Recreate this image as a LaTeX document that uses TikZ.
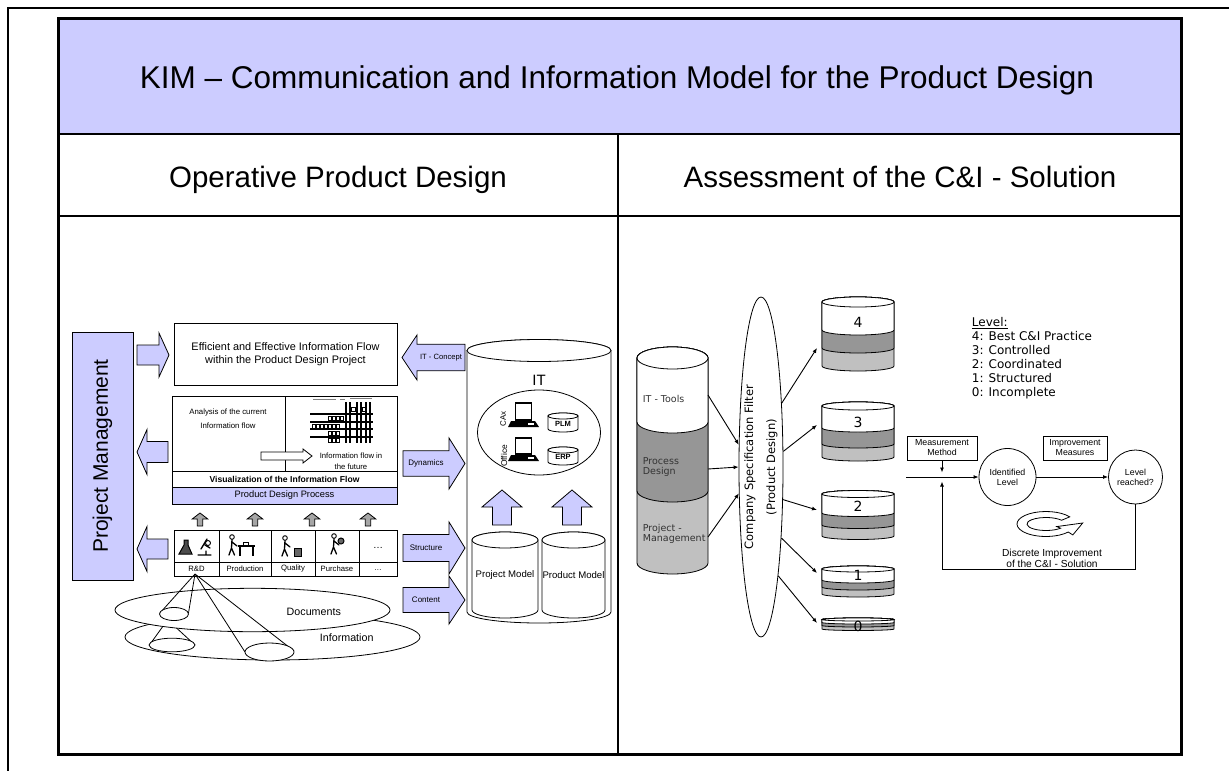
\documentclass[tikz,border=0pt]{standalone}
\usepackage{fontspec}
\setmainfont{Liberation Sans}
\newfontfamily\verd{DejaVu Sans}
\usetikzlibrary{arrows.meta,shapes.geometric,calc}
\definecolor{lav}{HTML}{CCCCFF}
\definecolor{dg}{HTML}{969696}
\definecolor{lg}{HTML}{C0C0C0}
\definecolor{ga}{HTML}{A6A6A6}
\newcommand{\fz}[2]{\fontsize{#1}{#2}\selectfont}
% horizontal block arrow: name, tail x, tip x, y, shaft half, head half, head length, fill, label
\newcommand{\harr}[9]{%
 \pgfmathsetmacro{\hb}{#3-sign(#3-#2)*#7}%
 \draw[blk,fill=#8] ({#2},{#4-#5}) -- (\hb,{#4-#5}) -- (\hb,{#4-#6}) -- ({#3},{#4}) -- (\hb,{#4+#6}) -- (\hb,{#4+#5}) -- ({#2},{#4+#5}) -- cycle;
 \node[lbl] (#1) at ({(#2+\hb)/2},{#4}) {#9};}
% vertical block arrow: name, x, tail y, tip y, shaft half, head half, head length, fill
\newcommand{\varr}[8]{%
 \pgfmathsetmacro{\vb}{#4-sign(#4-#3)*#7}%
 \draw[blk,fill=#8] ({#2-#5},{#3}) -- ({#2-#5},\vb) -- ({#2-#6},\vb) -- ({#2},{#4}) -- ({#2+#6},\vb) -- ({#2+#5},\vb) -- ({#2+#5},{#3}) -- cycle;
 \coordinate (#1) at ({#2},{(#3+\vb)/2});}
% cylinder body: x1 x2 ytop ybot ry fill
\newcommand{\cylb}[6]{%
 \pgfmathsetmacro{\crx}{(#2-#1)/2}%
 \draw[lw,fill=#6] ({#1},{#3}) -- ({#1},{#4}) arc[start angle=180,end angle=360,x radius=\crx pt,y radius=#5pt] -- ({#2},{#3}) arc[start angle=0,end angle=180,x radius=\crx pt,y radius=#5pt] -- cycle;}
% cylinder top: x1 x2 ytop ry fill
\newcommand{\cyltop}[5]{%
 \pgfmathsetmacro{\crx}{(#2-#1)/2}%
 \draw[lw,fill=#5] ({(#1+#2)/2},{#3}) ellipse[x radius=\crx pt,y radius=#4pt];}
% three band stack: x1 x2 ytop b1 b2 ybot ry
\newcommand{\stk}[7]{\cylb{#1}{#2}{#3}{#6}{#7}{lg}\cylb{#1}{#2}{#3}{#5}{#7}{dg}\cylb{#1}{#2}{#3}{#4}{#7}{white}\cyltop{#1}{#2}{#3}{#7}{white}}
% stick figure, head centre
\newcommand{\stick}[2]{%
 \draw[line width=0.9pt,fill=white] (#1,#2) circle[radius=2.3pt];
 \draw[line width=1.3pt,line cap=round] ({#1},{#2+2.5}) -- ({#1-0.5},{#2+11}) -- ({#1-3},{#2+18}) ({#1-0.5},{#2+11}) -- ({#1+2.5},{#2+18}) ({#1},{#2+5}) -- ({#1+5},{#2+9});}
\begin{document}
\begin{tikzpicture}[x=1pt,y=-1pt,
  lw/.style={line width=0.8pt},
  blk/.style={draw=black,line width=0.8pt,line join=miter},
  lbl/.style={inner sep=0pt,font=\fz{8}{9.6}},
  box/.style={draw=black,line width=0.8pt,inner sep=0pt},
  arr/.style={-{Latex[length=5pt,width=4pt]},line width=0.9pt},
  vt/.style={font=\verd\fz{9.5}{10},text=black!80,inner sep=0pt,anchor=west,align=left}]
\useasboundingbox (0,0) rectangle (1229,771);
% frames
\draw[line width=1.5pt] (8,772) -- (8,8) -- (1230,8);
\fill[lav] (58,18) rectangle (1181,134);
\draw[line width=2.5pt] (58,134) -- (1181,134);
\draw[line width=2.5pt] (58,216) -- (1181,216);
\draw[line width=2pt] (618,134) -- (618,754);
\node[anchor=base,inner sep=0,font=\fz{31.5}{36}] (title) at (617,88) {KIM – Communication and Information Model for the Product Design};
\node[anchor=base,inner sep=0,font=\fz{29.5}{35}] (hl) at (338,187) {Operative Product Design};
\node[anchor=base,inner sep=0,font=\fz{29.5}{35}] (hr) at (900,187) {Assessment of the C\&I - Solution};

% ---------------- left panel ----------------
\node[draw,fill=lav,lw,minimum width=61pt,minimum height=248pt,inner sep=0] (pm) at (102.5,456) {};
\node[rotate=90,inner sep=0,font=\fz{21}{24}] (pmt) at (102.5,456) {Project Management};
\harr{pa1}{137}{169}{355}{10}{22}{10}{lav}{}
\harr{pa2}{168}{137}{452}{10.5}{22.5}{10}{lav}{}
\harr{pa3}{168}{137}{549}{10}{22.5}{10}{lav}{}

\node[box,minimum width=223pt,minimum height=62pt,align=center,font=\fz{10.9}{12.7}] (eff) at (285.5,354) {Efficient and Effective Information Flow\\within the Product Design Project};

\draw[lw] (172,396) rectangle (397,471);
\draw[lw] (285,396) -- (285,471);
\node[box,minimum width=225pt,minimum height=16pt,font=\bfseries\fz{8.6}{10}] (viz) at (284.5,479) {Visualization of the Information Flow};
\node[box,fill=lav,minimum width=225pt,minimum height=17pt,font=\fz{9.3}{11}] (pdp) at (284.5,495.5) {Product Design Process};
\node[align=center,font=\fz{7.8}{13.7},inner sep=0] (anat) at (228,419) {Analysis of the current\\Information flow};
\node[align=center,font=\fz{7.7}{10.7},inner sep=0] (fut) at (351,461.5) {Information flow in\\the future};
\harr{wa}{261}{312}{456}{4}{7}{9}{white}{}
% information flow matrix picture
\begin{scope}[line width=1.5pt]
\foreach \yy in {414,422,429,437} {\draw (310,\yy) -- (373,\yy);}
\foreach \xx in {346,350,357,361,366,370} {\draw (\xx,402) -- (\xx,443);}
\end{scope}
\begin{scope}[line width=0.5pt]
\draw[gray] (313,399) -- (336,399) (340,399) -- (345,399) (350,398) -- (372,398);
\foreach \xx in {328,332,336,340} {\draw (\xx,416) rectangle ++(3,4);}
\foreach \xx in {312,316,320,324,328,332,336} {\draw (\xx,424) rectangle ++(3,4);}
\foreach \xx in {328,332,336} {\draw (\xx,431) rectangle ++(3,4);}
\foreach \xx in {328,332,336} {\draw (\xx,438) rectangle ++(3,4);}
\foreach \xx in {351,362} {\draw (\xx,407) rectangle ++(4,4);}
\end{scope}

% gray up arrows
\varr{g1}{200}{526}{513}{2.7}{7.8}{6}{ga}
\varr{g2}{255}{526}{513}{2.7}{7.8}{6}{ga}
\varr{g3}{312}{526}{513}{2.7}{7.8}{6}{ga}
\varr{g4}{368}{526}{513}{2.7}{7.8}{6}{ga}

% departments
\draw[lw] (174,530) rectangle (397,576);
\draw[lw] (174,562) -- (397,562);
\foreach \xx in {219,271,315,359} {\draw[lw] (\xx,530) -- (\xx,576);}
\node[lbl,font=\fz{7.7}{9}] (rd) at (196.5,569) {R\&D};
\node[lbl,font=\fz{7.7}{9}] (prod) at (245,569) {Production};
\node[lbl,font=\fz{7.7}{9}] (qual) at (293,569) {Quality};
\node[lbl,font=\fz{7.7}{9}] (purch) at (337,569) {Purchase};
\node[lbl,font=\fz{7.7}{9}] (dd) at (378,570) {…};
\node[lbl,font=\fz{10}{12}] (du) at (378,548) {…};
% icons
\draw[line width=1pt,fill=black!70] (184,540) -- (184,545) -- (179,554) -- (192,554) -- (188,545) -- (188,540) -- cycle;
\draw[line width=1.3pt,line cap=round] (198,555) -- (211,555) (206,555) -- (206,551) (201,549) -- (207,539) (205,545) -- (210,548);
\draw[line width=0.9pt] (208,543) circle[radius=2.5pt];
\stick{232}{537}
\draw[line width=1.4pt] (238,546) -- (255,546) (240,546) -- (240,556) (253,546) -- (253,556);
\draw[line width=0.9pt] (243,542) rectangle (248,546);
\stick{285}{538}
\draw[line width=1pt,fill=black!60] (294,548) rectangle (301,556);
\stick{334}{536}
\draw[line width=1pt,fill=black!60] (341,541) circle[radius=3pt];

% ellipses and cones
\draw[lw,fill=white] (272.5,637) ellipse[x radius=147.5pt,y radius=23pt];
\draw[lw] (166,622) -- (149.5,645) (170,622) -- (195,645);
\draw[lw,fill=white] (172,645) ellipse[x radius=23pt,y radius=6.8pt];
\draw[lw,fill=white] (252.5,610) ellipse[x radius=137.5pt,y radius=21.7pt];
\node[lbl,font=\fz{10.7}{12}] (docs) at (313.8,612) {Documents};
\node[lbl,font=\fz{10.7}{12}] (info) at (346.7,638) {Information};
\coordinate (apex) at (195,574);
\draw[lw] (apex) -- (160,613) (apex) -- (188.5,613);
\draw[lw,fill=white] (174,614) ellipse[x radius=14.5pt,y radius=6.5pt];
\draw[lw] (apex) -- (245,652) (apex) -- (294,651);
\draw[lw,fill=white] (269.5,652) ellipse[x radius=24.5pt,y radius=9pt];

% IT side arrows
\harr{itcon}{465}{402}{357.5}{13.3}{22.5}{15}{lav}{\fz{7.6}{9}IT - Concept}
\harr{dyn}{403}{465}{463.5}{12.7}{25.5}{16}{lav}{Dynamics}
\harr{str}{403}{465}{548}{13.5}{26}{16}{lav}{Structure}
\harr{con}{403}{465}{600}{12.5}{24}{16}{lav}{Content}

% IT cylinder
\cylb{467}{611}{350.5}{612}{11}{white}
\cyltop{467}{611}{350.5}{11}{white}
\node[inner sep=0,font=\fz{15}{17}] (itl) at (539,380) {IT};
\node[draw,ellipse,lw,minimum width=123pt,minimum height=85pt,inner sep=0] (sys) at (539,432.5) {};
% computers
\foreach \yy/\hh in {403/17,438/16} {
  \draw[line width=1.6pt,fill=white] (515.5,\yy) rectangle (531.5,\yy+\hh);
  \fill (511,\yy+\hh+1) -- (535,\yy+\hh+1) -- (539,\yy+\hh+7) -- (508,\yy+\hh+7) -- cycle;
  \fill[white] (528,\yy+\hh+3) rectangle (534,\yy+\hh+4.5);
}
\node[rotate=90,inner sep=0,font=\fz{8}{9}] (cax) at (503,419) {CAx};
\node[rotate=90,inner sep=0,font=\fz{8.4}{9}] (off) at (504,456) {Office};
\cylb{548}{578}{416}{429}{3}{white}
\cyltop{548}{578}{416}{3}{white}
\node[lbl,font=\bfseries\fz{7.5}{9}] (plm) at (563,424) {PLM};
\cylb{548}{578}{450}{462}{3}{white}
\cyltop{548}{578}{450}{3}{white}
\node[lbl,font=\bfseries\fz{7.5}{9}] (erp) at (563,457) {ERP};
\varr{u1}{502}{525}{490}{9.5}{20}{17}{lav}
\varr{u2}{572}{525}{490}{9.5}{20}{17}{lav}
\cylb{472}{538}{540}{610}{8}{white}
\cyltop{472}{538}{540}{8}{white}
\node[lbl,font=\fz{9.6}{11}] (pjm) at (505,575) {Project Model};
\cylb{542}{605}{540}{610}{8}{white}
\cyltop{542}{605}{540}{8}{white}
\node[lbl,font=\fz{9.6}{11}] (pdm) at (573.5,575) {Product Model};

% ---------------- right panel ----------------
\stk{637}{708}{358}{422}{491}{563}{11}
\node[vt] (itt) at (642.7,399) {IT - Tools};
\node[vt] (pdt) at (642.7,467) {Process\\Design};
\node[vt] (pmg) at (642.7,534) {Project -\\Management};

\node[draw,ellipse,lw,fill=white,minimum width=44pt,minimum height=340pt,inner sep=0] (filter) at (761,467) {};
\node[rotate=90,align=center,inner sep=0,font=\verd\fz{11.5}{22}] (ftxt) at (761,467) {Company Specification Filter\\(Product Design)};

\stk{822}{894}{302}{330}{348}{366}{5}
\stk{822}{894}{406}{428}{444}{457}{4}
\stk{822}{894}{494}{513}{525}{536}{3.5}
\stk{822}{894}{569}{580}{587}{594}{3}
\stk{822}{894}{619.5}{622.5}{625.5}{629}{1.5}
\node[inner sep=0,font=\verd\fz{14}{16}] (n4) at (858,322.7) {4};
\node[inner sep=0,font=\verd\fz{14}{16}] (n3) at (858,422.7) {3};
\node[inner sep=0,font=\verd\fz{14}{16}] (n2) at (858,506.7) {2};
\node[inner sep=0,font=\verd\fz{14}{16}] (n1) at (858,575) {1};
\node[inner sep=0,font=\verd\fz{14}{16}] (n0) at (858,626.7) {0};

\coordinate (sA) at (708,395);
\coordinate (sB) at (708,469);
\coordinate (sC) at (708,537);
\draw[arr] (sA) -- (filter.135);
\draw[arr] (sB) -- (filter.180);
\draw[arr] (sC) -- (filter.230);
\coordinate (l4) at (817,348);
\coordinate (l3) at (817,425);
\coordinate (l2) at (817,510);
\coordinate (l1) at (817,573);
\coordinate (l0) at (817,623);
\draw[arr] (filter.72) -- (l4);
\draw[arr] (filter.35) -- (l3);
\draw[arr] (filter.-56) -- (l2);
\draw[arr] (filter.-74) -- (l1);
\draw[arr] (filter.-81) -- (l0);

\node[anchor=north west,align=left,inner sep=0,font=\verd\fz{12}{14}] (leg) at (971.7,317) {\underline{Level:}\\4: Best C\&I Practice\\3: Controlled\\2: Coordinated\\1: Structured\\0: Incomplete};

% improvement loop
\node[box,minimum width=70pt,minimum height=24pt,align=center,font=\fz{8.8}{10}] (mm) at (942,448) {Measurement\\Method};
\node[box,minimum width=64pt,minimum height=24pt,align=center,font=\fz{8.8}{10}] (im) at (1075,448) {Improvement\\Measures};
\node[draw,circle,lw,minimum size=57pt,align=center,inner sep=0,font=\fz{8.8}{10}] (il) at (1007.5,477) {Identified\\Level};
\node[draw,circle,lw,minimum size=54pt,align=center,inner sep=0,font=\fz{8.8}{10}] (lr) at (1135.5,477) {Level\\reached?};
\coordinate (st) at (906,477);
\coordinate (j) at (942,477);
\coordinate (fb) at (942,569.3);
\draw[arr] (st) -- (il);
\draw[arr,shorten >=4.5pt] (mm.south) -- (j);
\draw[arr] (il) -- (lr);
\draw[arr,shorten >=4.5pt] (lr.south) -- (lr.south |- fb) -- (fb) -- (j);
% cycle icon
\draw[lw,fill=white,line join=miter] ({1046+29*cos(35)},{524-12.5*sin(35)}) arc[start angle=35,end angle=320,x radius=29pt,y radius=12.5pt]
  -- ({1046+35*cos(320)},{524-17*sin(320)}) -- (1082.7,523) -- ({1046+14*cos(320)},{524-4*sin(320)})
  -- ({1046+19*cos(320)},{524-6.5*sin(320)}) arc[start angle=320,end angle=35,x radius=19pt,y radius=6.5pt] -- cycle;
\node[align=center,inner sep=0,font=\fz{10.2}{10.7}] (disc) at (1052,558) {Discrete Improvement\\of the C\&I - Solution};

\draw[line width=3pt] (58,18) rectangle (1181,754);
\end{tikzpicture}
\end{document}
